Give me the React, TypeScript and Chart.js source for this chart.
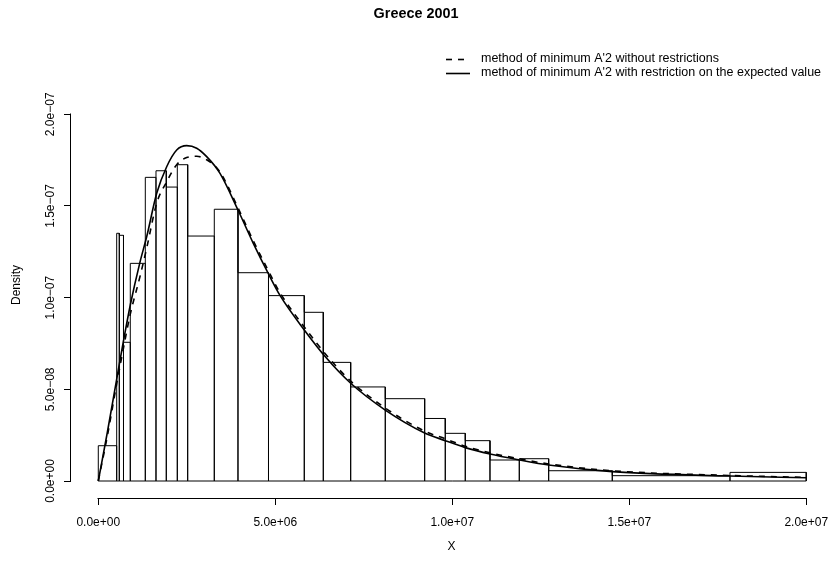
import React, { useEffect, useRef } from "react";
import { Chart, registerables } from "chart.js";

Chart.register(...registerables);

// ---- Data ----
const titleText = "Greece 2001";
const xAxisTitle = "X";
const yAxisTitle = "Density";
const legendLabels = [
  "method of minimum A'2 without restrictions",
  "method of minimum A'2 with restriction on the expected value",
];

// histogram bin breaks and densities
const breaks = [
  0, 0.52e6, 0.593e6, 0.712e6, 0.904e6, 1.328e6, 1.63e6, 1.921e6, 2.232e6, 2.525e6,
  3.277e6, 3.946e6, 4.808e6, 5.819e6, 6.356e6, 7.13e6, 8.107e6, 9.22e6, 9.802e6,
  10.367e6, 11.065e6, 11.893e6, 12.723e6, 14.52e6, 17.845e6, 20e6,
];
const densities = [
  1.925e-8, 1.351e-7, 1.34e-7, 7.565e-8, 1.187e-7, 1.656e-7, 1.692e-7, 1.603e-7,
  1.725e-7, 1.336e-7, 1.482e-7, 1.136e-7, 1.011e-7, 9.2e-8, 6.47e-8, 5.13e-8,
  4.49e-8, 3.41e-8, 2.6e-8, 2.2e-8, 1.145e-8, 1.216e-8, 5.6e-9, 2.9e-9, 4.7e-9,
];

// fitted density curves
const curveX = [
  0, 0.26e6, 0.52e6, 0.706e6, 0.904e6, 1.178e6, 1.367e6, 1.65e6, 1.932e6, 2.215e6,
  2.497e6, 2.78e6, 3.062e6, 3.438e6, 3.946e6, 4.379e6, 4.808e6, 5.133e6, 5.819e6,
  6.452e6, 7.13e6, 8.107e6, 9.22e6, 9.802e6, 10.367e6, 11.065e6, 11.893e6, 12.723e6,
  14.52e6, 17.845e6, 20e6,
];
const solidY = [
  0, 2.7e-8, 5.56e-8, 7.58e-8, 9.6e-8, 1.194e-7, 1.332e-7, 1.569e-7, 1.714e-7, 1.805e-7,
  1.829e-7, 1.815e-7, 1.769e-7, 1.678e-7, 1.478e-7, 1.296e-7, 1.129e-7, 1.012e-7, 8.24e-8,
  6.69e-8, 5.33e-8, 3.87e-8, 2.62e-8, 2.2e-8, 1.82e-8, 1.47e-8, 1.15e-8, 8.7e-9,
  5.1e-9, 2.7e-9, 1.8e-9,
];
const dashedY = [
  0, 2.5e-8, 5.3e-8, 7.2e-8, 9.1e-8, 1.115e-7, 1.27e-7, 1.515e-7, 1.632e-7, 1.725e-7,
  1.764e-7, 1.771e-7, 1.752e-7, 1.685e-7, 1.49e-7, 1.31e-7, 1.145e-7, 1.027e-7, 8.4e-8,
  6.85e-8, 5.45e-8, 3.98e-8, 2.72e-8, 2.3e-8, 1.9e-8, 1.54e-8, 1.21e-8, 9.3e-9,
  5.6e-9, 3.0e-9, 2.0e-9,
];

const xTickValues = [0, 5e6, 1e7, 1.5e7, 2e7];
const xTickLabels = ["0.0e+00", "5.0e+06", "1.0e+07", "1.5e+07", "2.0e+07"];
const yTickValues = [0, 5e-8, 1e-7, 1.5e-7, 2e-7];
const yTickLabels = ["0.0e+00", "5.0e\u221208", "1.0e\u221207", "1.5e\u221207", "2.0e\u221207"];

const FONT = "'Liberation Sans', Arial, Helvetica, sans-serif";
const DASH = [6, 6];
const CURVE_WIDTH = 1.6;

function histogramOutline() {
  const pts: { x: number; y: number }[] = [{ x: breaks[0], y: 0 }];
  for (let i = 0; i < densities.length; i++) {
    pts.push({ x: breaks[i], y: densities[i] });
    pts.push({ x: breaks[i + 1], y: densities[i] });
    pts.push({ x: breaks[i + 1], y: 0 });
  }
  pts.push({ x: breaks[0], y: 0 });
  return pts;
}

const rAxesPlugin = {
  id: "rAxes",
  afterDraw(chart: any) {
    const { ctx, chartArea, scales } = chart;
    const xs = scales.x;
    const ys = scales.y;
    ctx.save();
    ctx.strokeStyle = "#000";
    ctx.lineWidth = 1;
    ctx.setLineDash([]);
    // x axis line
    const yLine = Math.round(chartArea.bottom) + 0.5;
    ctx.beginPath();
    ctx.moveTo(Math.round(xs.getPixelForValue(xTickValues[0])) - 0.5, yLine);
    ctx.lineTo(Math.round(xs.getPixelForValue(xTickValues[xTickValues.length - 1])) + 0.5, yLine);
    ctx.stroke();
    // y axis line
    const xLine = Math.round(chartArea.left) - 0.5;
    ctx.beginPath();
    ctx.moveTo(xLine, Math.round(ys.getPixelForValue(yTickValues[0])) + 0.5);
    ctx.lineTo(xLine, Math.round(ys.getPixelForValue(yTickValues[yTickValues.length - 1])) - 0.5);
    ctx.stroke();
    // y tick labels (rotated, parallel to axis)
    ctx.fillStyle = "#000";
    ctx.font = `12px ${FONT}`;
    ctx.textAlign = "center";
    ctx.textBaseline = "middle";
    yTickValues.forEach((v, i) => {
      const py = ys.getPixelForValue(v);
      ctx.save();
      ctx.translate(51, py);
      ctx.rotate(-Math.PI / 2);
      ctx.fillText(yTickLabels[i], 0, 0);
      ctx.restore();
    });
    // legend
    ctx.lineWidth = CURVE_WIDTH;
    ctx.setLineDash(DASH);
    ctx.beginPath();
    ctx.moveTo(446, 59.5);
    ctx.lineTo(470, 59.5);
    ctx.stroke();
    ctx.setLineDash([]);
    ctx.beginPath();
    ctx.moveTo(446, 73.5);
    ctx.lineTo(470, 73.5);
    ctx.stroke();
    ctx.font = `12.5px ${FONT}`;
    ctx.textAlign = "left";
    ctx.fillText(legendLabels[0], 481, 59);
    ctx.fillText(legendLabels[1], 481, 73);
    ctx.restore();
  },
};

export default function App() {
  const ref = useRef<HTMLCanvasElement>(null);
  useEffect(() => {
    const canvas = ref.current;
    if (!canvas) return;
    const chart = new Chart(canvas, {
      type: "line",
      data: {
        datasets: [
          {
            label: legendLabels[1],
            data: curveX.map((x, i) => ({ x, y: solidY[i] })),
            borderColor: "#000",
            borderWidth: CURVE_WIDTH,
            pointRadius: 0,
            fill: false,
            cubicInterpolationMode: "monotone",
            order: 1,
          },
          {
            label: legendLabels[0],
            data: curveX.map((x, i) => ({ x, y: dashedY[i] })),
            borderColor: "#000",
            borderWidth: CURVE_WIDTH,
            borderDash: DASH,
            pointRadius: 0,
            fill: false,
            cubicInterpolationMode: "monotone",
            order: 2,
          },
          {
            label: "histogram",
            data: histogramOutline(),
            borderColor: "#000",
            borderWidth: 1,
            pointRadius: 0,
            fill: false,
            tension: 0,
            order: 3,
          },
        ],
      },
      options: {
        animation: false,
        responsive: false,
        devicePixelRatio: 1,
        layout: { padding: { top: 0, left: 0, right: 0, bottom: 0 } },
        plugins: {
          legend: { display: false },
          tooltip: { enabled: false },
          title: {
            display: true,
            text: titleText,
            color: "#000",
            font: { family: FONT, size: 14.4, weight: "bold" },
            padding: { top: 5.4, bottom: 49.3 },
          },
        },
        scales: {
          x: {
            type: "linear",
            min: -0.771e6,
            max: 20.727e6,
            afterBuildTicks: (scale: any) => {
              scale.ticks = xTickValues.map((v) => ({ value: v }));
            },
            afterFit: (scale: any) => {
              scale.height = 65;
              scale.paddingLeft = 0;
              scale.paddingRight = 0;
            },
            ticks: {
              autoSkip: false,
              maxRotation: 0,
              minRotation: 0,
              padding: 10.5,
              color: "#000",
              font: { family: FONT, size: 12 },
              callback: (_v: any, i: number) => xTickLabels[i],
            },
            grid: {
              display: true,
              drawOnChartArea: false,
              drawTicks: true,
              tickLength: 7,
              color: "#000",
            },
            border: { display: false },
            title: {
              display: true,
              text: xAxisTitle,
              color: "#000",
              font: { family: FONT, size: 12 },
              padding: { top: 0, bottom: 8.8 },
            },
          },
          y: {
            type: "linear",
            min: -9.27e-9,
            max: 2.2307e-7,
            afterBuildTicks: (scale: any) => {
              scale.ticks = yTickValues.map((v) => ({ value: v }));
            },
            afterFit: (scale: any) => {
              scale.width = 71;
              scale.paddingTop = 0;
              scale.paddingBottom = 0;
            },
            ticks: { display: false },
            grid: {
              display: true,
              drawOnChartArea: false,
              drawTicks: true,
              tickLength: 7,
              color: "#000",
            },
            border: { display: false },
            title: {
              display: true,
              text: yAxisTitle,
              color: "#000",
              font: { family: FONT, size: 12 },
              padding: { top: 9.8, bottom: 0 },
            },
          },
        },
      },
      plugins: [rAxesPlugin],
    });
    return () => chart.destroy();
  }, []);
  return (
    <div style={{ position: "absolute", left: 0, top: 0, width: 832, height: 563, background: "#fff" }}>
      <canvas ref={ref} width={832} height={563} />
    </div>
  );
}
